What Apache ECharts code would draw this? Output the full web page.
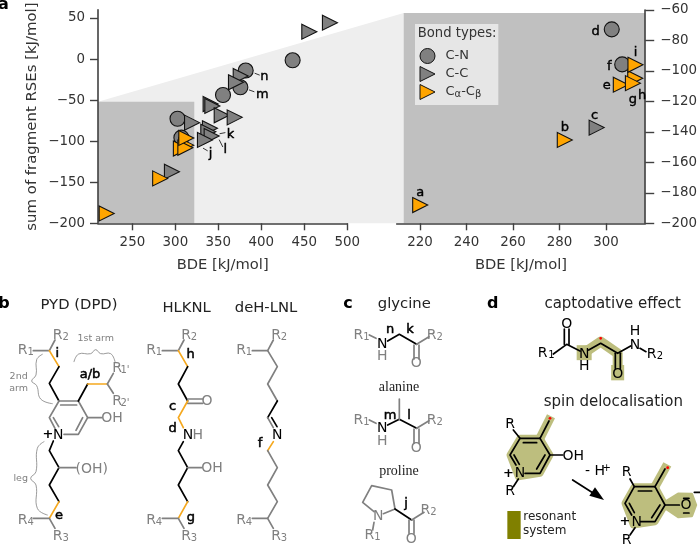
<!DOCTYPE html>
<html>
<head>
<meta charset="utf-8">
<style>html,body{margin:0;padding:0;background:#fff}#c{width:700px;height:544px}</style>
<script src="https://cdn.jsdelivr.net/npm/echarts@6/dist/echarts.min.js"></script>
</head>
<body>
<div id="c"></div>
<script>
// ---------- data ----------
const cnBde = [307, 302.5, 355.4, 375.6, 381.8, 436.4];
const cnRse = [-95.7, -72.7, -43.8, -34.4, -14, -1.5];
const cnTags = ['f', 'd', '', 'm', 'n', ''];
const ccBde = [479.8, 455.8, 376, 370.5, 341, 343, 353.9, 369, 319.4, 340.2, 338.3, 342.2, 334.4, 296];
const ccRse = [44.3, 33.4, -20.6, -28.3, -54.7, -57.1, -68.5, -71, -77.4, -84.3, -88.4, -93.7, -98.5, -137.2];
const ccTags = ['', '', '', '', '', '', '', '', '', 'k', '', 'l', 'j', 'c'];
const abBde = [220.1, 282.3, 306.4, 312.6, 311.6, 312.7];
const abRse = [-188, -145.3, -109, -104.8, -108, -96];
const abTags = ['a', 'b', 'e', 'h', 'g', 'i'];
const seriesNames = ['C-N', 'C-C', 'Cα-Cβ'];
const overviewBdeTicks = [250, 300, 350, 400, 450, 500];
const overviewRseTicks = [-200, -150, -100, -50, 0, 50];
const detailBdeTicks = [220, 240, 260, 280, 300];
const detailRseTicks = [-200, -180, -160, -140, -120, -100, -80, -60];
const overviewBdeRange = [210, 500];
const overviewRseRange = [-200, 60];
const detailBdeRange = [210, 316.9];
const detailRseRange = [-200, -60];

// ---------- styling ----------
const FONT = '"DejaVu Sans", sans-serif';
const AX = '#404040', TXT = '#333333', GR = '#808080', OR = '#f5a81e', BK = '#000000', HL = '#bdbe7e';
const LABEL_OFFSETS = {
  a: [0, -12], b: [0, -12], c: [-2, -12], d: [-16, 2], e: [-14, 1], f: [-13, 2], g: [0, 16], h: [7, 17], i: [0, -12],
  j: [5.7, 13.3], k: [20.7, 6], l: [13.6, 14], m: [22, 7.7], n: [18.6, 6]
};
const overviewOnly = 'jklmn';
const TRI = 'path://M0,0L1,0.5L0,1Z';

function points(xs, ys, tags, detail) {
  const out = [];
  xs.forEach((x, i) => {
    const y = ys[i], t = tags[i];
    if (detail && (x > detailBdeRange[1] || y > detailRseRange[1])) return;
    const show = !!t && (detail ? !overviewOnly.includes(t) : overviewOnly.includes(t));
    out.push({
      value: [x, y],
      label: show ? {
        show: true, position: 'inside', offset: LABEL_OFFSETS[t], formatter: t,
        color: '#000', fontFamily: FONT, fontSize: 13, textBorderColor: '#000', textBorderWidth: 0.4
      } : { show: false }
    });
  });
  return out;
}
const base = (name, color, symbol, g, data) => ({
  type: 'scatter', name, symbol, symbolSize: 15, xAxisIndex: g, yAxisIndex: g, data, clip: false,
  itemStyle: { color, borderColor: '#111', borderWidth: 1.1, opacity: 1 }, silent: true, animation: false
});
function seriesFor(g) {
  const d = g === 1;
  return [
    base(seriesNames[0], '#808080', 'circle', g, points(cnBde, cnRse, cnTags, d)),
    base(seriesNames[1], '#808080', TRI, g, points(ccBde, ccRse, ccTags, d)),
    base(seriesNames[2], '#ffa500', TRI, g, points(abBde, abRse, abTags, d))
  ];
}
const minus = v => String(v).replace('-', '\u2212');
function xAxis(g, range, ticks) {
  return {
    type: 'value', gridIndex: g, min: range[0], max: range[1], name: 'BDE [kJ/mol]', nameLocation: 'middle', nameGap: 34,
    nameTextStyle: { color: TXT, fontFamily: FONT, fontSize: 14.7 },
    axisLine: { onZero: false, lineStyle: { color: AX, width: 1.6 } },
    axisTick: { length: 7, customValues: ticks, lineStyle: { color: AX, width: 1.4 } },
    axisLabel: { customValues: ticks, color: TXT, fontFamily: FONT, fontSize: 13.4, margin: 13, hideOverlap: false, showMinLabel: true, showMaxLabel: true },
    splitLine: { show: false }
  };
}
function yAxis(g, range, ticks, pos) {
  const a = {
    type: 'value', gridIndex: g, min: range[0], max: range[1], position: pos,
    axisLine: { onZero: false, lineStyle: { color: AX, width: 1.6 } },
    axisTick: { length: g === 0 ? 8 : 9, customValues: ticks, lineStyle: { color: AX, width: 1.4 } },
    axisLabel: { customValues: ticks, color: TXT, fontFamily: FONT, fontSize: 13.4, margin: g === 0 ? 13 : 15, formatter: minus, showMinLabel: true, showMaxLabel: true },
    splitLine: { show: false }
  };
  if (g === 0) {
    a.name = 'sum of fragment RSEs [kJ/mol]';
    a.nameLocation = 'middle'; a.nameGap = 58;
    a.nameTextStyle = { color: TXT, fontFamily: FONT, fontSize: 14.9 };
  }
  return a;
}

const chart = echarts.init(document.getElementById('c'), null, { renderer: 'canvas' });
chart.setOption({
  animation: false,
  backgroundColor: '#fff',
  grid: [
    { left: 98, top: 9.8, width: 249.3, height: 213.5 },
    { left: 396.7, top: 10, width: 249.3, height: 213.3 }
  ],
  xAxis: [xAxis(0, overviewBdeRange, overviewBdeTicks), xAxis(1, detailBdeRange, detailBdeTicks)],
  yAxis: [yAxis(0, overviewRseRange, overviewRseTicks, 'left'), yAxis(1, detailRseRange, detailRseTicks, 'right')],
  legend: {
    left: 415, top: 24, orient: 'vertical', backgroundColor: '#e6e6e6', padding: [24, 17, 5, 4.5], itemGap: 2,
    itemWidth: 15, itemHeight: 15, selectedMode: false,
    itemStyle: { borderWidth: 1, borderColor: '#111' },
    data: [
      { name: seriesNames[0], icon: 'circle' },
      { name: seriesNames[1], icon: TRI },
      { name: seriesNames[2], icon: TRI }
    ],
    formatter: n => n === seriesNames[2] ? 'C{s|α}-C{s|β}' : n,
    textStyle: { color: TXT, fontFamily: FONT, fontSize: 13, padding: [0, 0, 0, 5.5], rich: { s: { fontSize: 10, verticalAlign: 'bottom', color: TXT, fontFamily: FONT, padding: [5, 0, 0, 0] } } }
  },
  series: seriesFor(0).concat(seriesFor(1))
});

// ---------- drawing helpers for the chemical schemes (coordinates are scheme space, 3 units per pixel) ----------
const els = [];
const P_B = [0, 285], P_D = [350, 285], P_A = [0, 0];
let P = P_B;
const TITLE = 14.8;
const px = p => [P[0] + p[0] / 3, P[1] + p[1] / 3];
function L(color, pts, w, opt) {
  els.push(Object.assign({ type: 'polyline', silent: true, z: 5, shape: { points: pts.map(px) },
    style: { stroke: color, fill: null, lineWidth: w || 1.7, lineJoin: 'round', lineCap: 'round' } }, opt || {}));
}
function H(pts, w) { // highlight band
  els.push({ type: 'polyline', silent: true, z: 3, shape: { points: pts.map(px) },
    style: { stroke: HL, fill: null, lineWidth: w, lineJoin: 'round', lineCap: 'butt' } });
}
function S(color, pts, w) { // smooth curve for braces
  L(color, pts, w || 0.8, { shape: { points: pts.map(px), smooth: 0.45 } });
}
function F(color, pts, lw) { // filled highlight area
  els.push({ type: 'polygon', silent: true, z: 3, shape: { points: pts.map(px) },
    style: { fill: color, stroke: color, lineWidth: lw, lineJoin: 'round' } });
}
function T(x, y, s, color, size, extra) {
  const p = px([x, y]);
  els.push({ type: 'text', silent: true, z: 6, x: p[0], y: p[1], style: Object.assign({
    text: s, fill: color || BK, font: (size || 14) + 'px ' + FONT, textAlign: 'center', textVerticalAlign: 'middle' }, extra || {}) });
}
function B(x, y, s, size) { T(x, y, s, BK, size || 13, { stroke: BK, lineWidth: 0.5 }); }
function R(x, y, sub, color) {
  T(x - 7, y, 'R', color || GR, 14);
  T(x + 17, y + 6, sub, color || GR, 10);
}
const dot = (x, y) => { const p = px([x, y]); els.push({ type: 'circle', silent: true, z: 7, shape: { cx: p[0], cy: p[1], r: 1.4 }, style: { fill: '#ff0000' } }); };
const panel = (x, y, s) => T(x, y, s, BK, 16, { font: 'bold 16px ' + FONT });

// panel letters
P = P_A; panel(10, 16, 'a');
P = P_B;
panel(12, 57, 'b');
T(237, 60, 'PYD (DPD)', '#222', TITLE);
T(560, 68, 'HLKNL', '#222', TITLE);
T(798, 68, 'deH-LNL', '#222', TITLE);

// PYD
R(75, 197, '1'); R(180, 150, '2');
L(GR, [[100, 197], [148, 197], [165, 165]]);
L(OR, [[148, 197], [177, 245]]);
L(BK, [[177, 245], [148, 295], [177, 348]]);
L(GR, [[177, 348], [235, 348], [263, 398], [235, 448], [192, 448]]);
L(GR, [[177, 348], [148, 398], [165, 430]]);
L(GR, [[182, 360], [230, 360]]);
L(GR, [[160, 398], [176, 425]]);
L(GR, [[248, 398], [228, 436]]);
L(GR, [[263, 398], [305, 398]]);
T(336, 399, 'OH', GR, 14);
L(BK, [[235, 348], [263, 297]]);
L(OR, [[263, 297], [322, 297]]);
L(GR, [[340, 265], [322, 297], [340, 325]]);
R(358, 250, "1'"); R(358, 350, "2'");
B(270, 270, 'a/b');
T(175, 452, 'N', BK, 14); T(144, 450, '+', BK, 13, { font: 'bold 13px ' + FONT });
L(BK, [[160, 468], [148, 497], [177, 548], [148, 600], [177, 650]]);
L(OR, [[177, 650], [148, 700]]);
L(GR, [[177, 548], [228, 548]]);
T(275, 553, '(OH)', GR, 14);
L(GR, [[100, 700], [148, 700], [165, 730]]);
R(75, 705, '4'); R(180, 755, '3');
B(177, 692, 'e'); B(172, 205, 'i');
T(287, 160, '1st arm', GR, 9.5);
S(GR, [[222, 230], [236, 207], [272, 206], [287, 194], [302, 206], [332, 206], [345, 230]]);
T(56, 275, '2nd', GR, 9.5); T(56, 312, 'arm', GR, 9.5);
S(GR, [[127, 208], [110, 224], [108, 270], [95, 288], [110, 302], [122, 342], [157, 356]]);
T(62, 580, 'leg', GR, 9.5);
S(GR, [[132, 470], [112, 490], [108, 560], [92, 580], [108, 600], [112, 670], [142, 690]]);

// HLKNL
R(460, 197, '1'); R(565, 150, '2');
L(GR, [[487, 197], [535, 197], [552, 165]]);
L(OR, [[535, 197], [563, 245]]);
L(BK, [[563, 245], [535, 297], [563, 348]]);
L(GR, [[563, 342], [608, 342]]); L(GR, [[563, 355], [608, 355]]);
T(621, 349, 'O', GR, 14);
L(OR, [[563, 348], [535, 398], [550, 428]]);
B(518, 365, 'c'); B(518, 430, 'd');
T(564, 452, 'N', BK, 14); T(593, 452, 'H', GR, 14);
L(BK, [[550, 470], [535, 497], [563, 548], [535, 600], [563, 650]]);
L(GR, [[563, 548], [605, 548]]);
T(636, 551, 'OH', GR, 14);
L(OR, [[563, 650], [535, 700]]);
L(GR, [[487, 700], [535, 700], [552, 730]]);
R(460, 705, '4'); R(565, 755, '3');
B(573, 697, 'g'); B(572, 210, 'h');

// deH-LNL
R(730, 197, '1'); R(835, 150, '2');
L(GR, [[757, 197], [803, 197], [820, 165]]);
L(GR, [[803, 197], [832, 245], [803, 297], [832, 348]]);
L(BK, [[832, 348], [803, 398]]);
L(GR, [[803, 398], [820, 428]]); L(BK, [[815, 398], [831, 425]]);
T(832, 452, 'N', BK, 14);
L(OR, [[820, 470], [803, 497]]);
B(780, 477, 'f');
L(GR, [[803, 497], [832, 548], [803, 600], [832, 650], [803, 700], [757, 700]]);
L(GR, [[803, 700], [820, 730]]);
R(730, 705, '4'); R(835, 755, '3');

// panel c
P = P_D;
panel(-6, 57, 'c');
T(163, 57, 'glycine', '#222', TITLE);
R(32, 150, '1');
L(GR, [[58, 150], [78, 160]]);
T(97, 178, 'N', BK, 14); T(97, 214, 'H', GR, 14);
L(BK, [[113, 168], [148, 148], [200, 178]]);
L(GR, [[200, 178], [237, 155]]);
R(252, 150, '2');
L(GR, [[192, 180], [192, 222]]); L(GR, [[207, 180], [207, 222]]);
T(199, 236, 'O', GR, 14);
B(120, 135, 'n'); B(180, 135, 'k');

const SERIF = '"Liberation Serif", serif';
T(147, 307, 'alanine', '#222', 13.5, { font: '14px ' + SERIF });
R(32, 405, '1');
L(GR, [[58, 405], [78, 415]]);
T(97, 431, 'N', BK, 14); T(97, 468, 'H', GR, 14);
L(BK, [[113, 420], [148, 403], [200, 430]]);
L(GR, [[148, 403], [148, 342]]);
L(GR, [[200, 430], [237, 407]]);
R(252, 405, '2');
L(GR, [[192, 432], [192, 475]]); L(GR, [[207, 432], [207, 475]]);
T(199, 490, 'O', GR, 14);
B(120, 393, 'm'); B(177, 393, 'l');

T(147, 558, 'proline', '#222', 13.5, { font: '14px ' + SERIF });
L(GR, [[72, 680], [38, 652], [65, 602], [125, 615], [135, 672], [100, 686]]);
T(85, 695, 'N', GR, 14);
L(GR, [[72, 712], [68, 735]]);
R(65, 752, '1');
L(BK, [[135, 672], [185, 705]]);
L(GR, [[185, 705], [222, 682]]);
R(233, 675, '2');
L(GR, [[177, 705], [177, 745]]); L(GR, [[192, 705], [192, 745]]);
T(184, 763, 'O', GR, 14);
B(168, 657, 'j');

// panel d
panel(428, 58, 'd');
T(788, 58, 'captodative effect', '#222', 15);
H([[700, 205], [752, 170], [803, 205], [803, 272]], 10);
H([[680, 203], [725, 203]], 15);
H([[803, 240], [803, 286]], 13);
T(578, 206, 'R', BK, 14); T(604, 212, '1', BK, 10);
L(BK, [[610, 207], [650, 178], [690, 198]]);
L(BK, [[643, 178], [643, 132]]); L(BK, [[657, 178], [657, 132]]);
T(650, 118, 'O', BK, 14);
T(703, 208, 'N', BK, 14); T(703, 244, 'H', BK, 14);
L(BK, [[716, 195], [752, 175], [803, 205], [842, 183]]);
L(BK, [[796, 205], [796, 250]]); L(BK, [[811, 205], [811, 250]]);
T(803, 268, 'O', BK, 14);
T(855, 180, 'N', BK, 14); T(855, 140, 'H', BK, 14);
L(BK, [[870, 190], [888, 200]]);
T(905, 207, 'R', BK, 14); T(930, 213, '2', BK, 10);
dot(752, 160);

T(790, 352, 'spin delocalisation', '#222', 15);

// first ring
F(HL, [[510, 460], [570, 460], [600, 510], [570, 565], [505, 575], [480, 510]], 7);
H([[570, 460], [603, 394]], 9);
T(480, 417, 'R', BK, 14);
L(BK, [[490, 435], [510, 460]]);
L(BK, [[570, 460], [510, 460], [480, 510], [498, 540]]);
L(BK, [[570, 460], [600, 510], [570, 565], [525, 565]]);
L(BK, [[520, 473], [560, 473]]); L(BK, [[492, 510], [508, 538]]); L(BK, [[585, 510], [560, 552]]);
L(BK, [[570, 460], [597, 408]]);
dot(600, 400);
L(BK, [[600, 510], [638, 510]]);
T(670, 513, 'OH', BK, 14);
T(510, 566, 'N', BK, 14); T(475, 565, '+', BK, 13, { font: 'bold 13px ' + FONT });
L(BK, [[505, 582], [490, 605]]);
T(480, 618, 'R', BK, 14);

T(735, 560, '- H', BK, 14); T(770, 550, '+', BK, 10);
L(BK, [[668, 585], [735, 628]]);
els.push({ type: 'polygon', silent: true, z: 5, shape: { points: [[350 + 762 / 3, 285 + 645 / 3], [350 + 718 / 3, 285 + 632 / 3], [350 + 735 / 3, 285 + 607 / 3]] }, style: { fill: BK } });

// second ring
F(HL, [[853, 605], [915, 605], [945, 660], [915, 710], [850, 720], [825, 655]], 7);
H([[915, 605], [952, 538]], 9);
F(HL, [[945, 652], [985, 627], [1025, 628], [1037, 660], [1025, 692], [985, 695], [945, 668]], 3);
T(830, 562, 'R', BK, 14);
L(BK, [[840, 582], [853, 605]]);
L(BK, [[915, 605], [853, 605], [825, 655], [845, 690]]);
L(BK, [[915, 605], [945, 660], [915, 710], [872, 710]]);
L(BK, [[865, 618], [905, 618]]); L(BK, [[838, 655], [853, 683]]); L(BK, [[930, 660], [905, 698]]);
L(BK, [[915, 605], [945, 552]]);
dot(953, 548);
L(BK, [[945, 660], [988, 660]]);
T(1008, 662, 'O', BK, 14);
L(BK, [[1001, 640], [1017, 640]]); L(BK, [[1001, 684], [1017, 684]]);
L(BK, [[1033, 622], [1050, 622]]);
T(860, 712, 'N', BK, 14); T(825, 710, '+', BK, 13, { font: 'bold 13px ' + FONT });
L(BK, [[855, 728], [840, 750]]);
T(830, 766, 'R', BK, 14);

// legend for the resonant system
els.push({ type: 'rect', silent: true, z: 3, shape: { x: 350 + 472 / 3, y: 285 + 678 / 3, width: 40 / 3, height: 84 / 3 }, style: { fill: '#808000' } });
T(599, 695, 'resonant', '#222', 12);
T(584, 739, 'system', '#222', 12);

// leader lines in the overview plot
P = P_A;
[[[765, 220], [778, 225]], [[748, 270], [762, 275]], [[660, 401], [675, 398]], [[658, 420], [668, 440]], [[610, 445], [622, 452]]]
  .forEach(p => L('#222', p, 0.9, { z: 8 }));

// bond-type legend heading
els.push({ type: 'text', silent: true, z: 20, x: 417.7, y: 33.5, style: { text: 'Bond types:', fill: TXT, font: '13.2px ' + FONT, textVerticalAlign: 'middle' } });

// zoom guide and shaded regions, placed through the axes
const zoomLeft = { bde: [overviewBdeRange[0], 322], rseTop: -52 };
const zoomRight = { bde: [213, detailBdeRange[1]], rseTop: -62 };
const toL = p => chart.convertToPixel({ gridIndex: 0 }, p);
const toR = p => chart.convertToPixel({ gridIndex: 1 }, p);
const lTL = toL([zoomLeft.bde[0], zoomLeft.rseTop]), lBR = toL([zoomLeft.bde[1], overviewRseRange[0]]);
const rTL = toR([zoomRight.bde[0], zoomRight.rseTop]), rBR = toR([zoomRight.bde[1], detailRseRange[0]]);
els.unshift(
  { type: 'polygon', silent: true, z: -3, shape: { points: [lTL, rTL, [rTL[0], rBR[1]], [lBR[0], lBR[1]]] }, style: { fill: '#eeeeee' } },
  { type: 'rect', silent: true, z: -2, shape: { x: lTL[0], y: lTL[1], width: lBR[0] - lTL[0], height: lBR[1] - lTL[1] }, style: { fill: '#c0c0c0' } },
  { type: 'rect', silent: true, z: -2, shape: { x: rTL[0], y: rTL[1], width: rBR[0] - rTL[0], height: rBR[1] - rTL[1] }, style: { fill: '#c0c0c0' } }
);
chart.setOption({ graphic: { elements: els } });
</script>
</body>
</html>
